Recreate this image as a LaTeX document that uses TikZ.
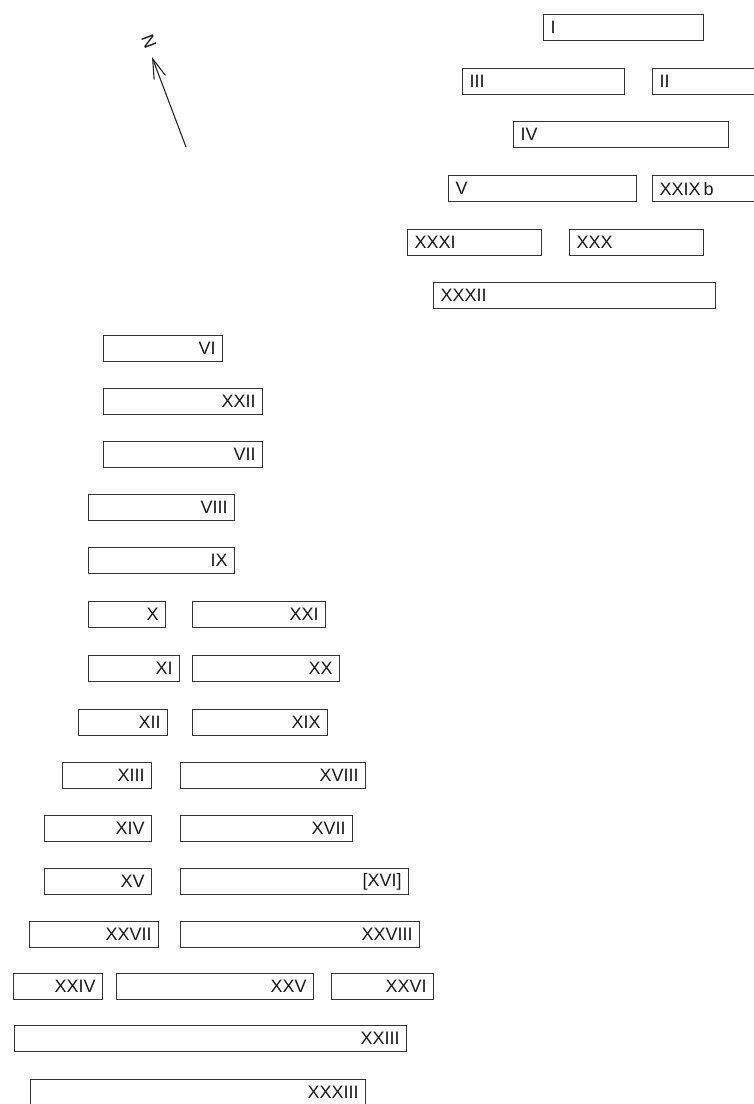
\documentclass[tikz,border=0pt]{standalone}
\usepackage{fontspec}
\setmainfont{Liberation Sans}
\usetikzlibrary{arrows.meta}

\begin{document}
\begin{tikzpicture}[
    x=1pt, y=-1pt,
    room/.style={rectangle, draw=black!80, line width=1.2pt, anchor=north west, minimum height=26pt, inner xsep=7pt, inner ysep=0pt, text width=#1-14pt, font=\fontsize{18}{20}\selectfont, text=black!90},
    rooml/.style={room=#1, align=left},
    roomr/.style={room=#1, align=right},
    north/.style={-{Straight Barb[length=20pt, width=12pt]}, line width=1.1pt, black!85}
]
    \clip (0,0) rectangle (754,1104);
    % north arrow
    \coordinate (tail) at (186,147);
    \coordinate (tip)  at (152,57);
    \node[rotate=110.7, font=\fontsize{18}{20}\selectfont, text=black!90, inner sep=0pt] (n) at (149,42) {N};
    \draw[north] (tail) -- (tip);
    % upper group
    \node[rooml=160pt] (i)     at (543,14)  {I};
    \node[rooml=162pt] (iii)   at (462,68)  {III};
    \node[rooml=120pt] (ii)    at (652,68)  {II};
    \node[rooml=215pt] (iv)    at (513,121) {IV};
    \node[rooml=188pt] (v)     at (448,175) {V};
    \node[rooml=120pt] (xxixb) at (652,175) {XXIX\,b};
    \node[rooml=134pt] (xxxi)  at (407,229) {XXXI};
    \node[rooml=134pt] (xxx)   at (569,229) {XXX};
    \node[rooml=282pt] (xxxii) at (433,282) {XXXII};
    % lower group
    \node[roomr=119pt] (vi)     at (103,335)  {VI};
    \node[roomr=159pt] (xxii)   at (103,388)  {XXII};
    \node[roomr=159pt] (vii)    at (103,441)  {VII};
    \node[roomr=146pt] (viii)   at (88,494)   {VIII};
    \node[roomr=146pt] (ix)     at (88,547)   {IX};
    \node[roomr=77pt]  (x)      at (88,601)   {X};
    \node[roomr=133pt] (xxi)    at (192,601)  {XXI};
    \node[roomr=91pt]  (xi)     at (88,655)   {XI};
    \node[roomr=147pt] (xx)     at (192,655)  {XX};
    \node[roomr=89pt]  (xii)    at (78,709)   {XII};
    \node[roomr=135pt] (xix)    at (192,709)  {XIX};
    \node[roomr=89pt]  (xiii)   at (62,762)   {XIII};
    \node[roomr=185pt] (xviii)  at (180,762)  {XVIII};
    \node[roomr=107pt] (xiv)    at (44,815)   {XIV};
    \node[roomr=172pt] (xvii)   at (180,815)  {XVII};
    \node[roomr=107pt] (xv)     at (44,868)   {XV};
    \node[roomr=228pt] (xvi)    at (180,868)  {[XVI]};
    \node[roomr=129pt] (xxvii)  at (29,921)   {XXVII};
    \node[roomr=239pt] (xxviii) at (180,921)  {XXVIII};
    \node[roomr=89pt]  (xxiv)   at (13,973)   {XXIV};
    \node[roomr=197pt] (xxv)    at (116,973)  {XXV};
    \node[roomr=102pt] (xxvi)   at (331,973)  {XXVI};
    \node[roomr=392pt] (xxiii)  at (14,1025)  {XXIII};
    \node[roomr=335pt] (xxxiii) at (30,1079)  {XXXIII};
\end{tikzpicture}
\end{document}
